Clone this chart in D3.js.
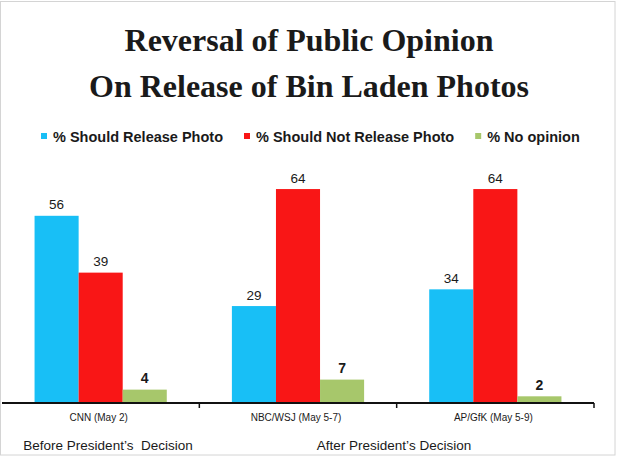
<!DOCTYPE html>
<html>
<head>
<meta charset="utf-8">
<script src="https://cdn.jsdelivr.net/npm/d3@7"></script>
<style>
  body { margin: 0; background: #fff; }
  svg text { font-family: "Liberation Sans", Arial, sans-serif; fill: #1a1a1a; }
</style>
</head>
<body>
<div id="chart"></div>
<script>
// chart data
const titleLines = ["Reversal of Public Opinion", "On Release of Bin Laden Photos"];
const categories = ["CNN (May 2)", "NBC/WSJ (May 5-7)", "AP/GfK (May 5-9)"];
const seriesNames = ["% Should Release Photo", "% Should Not Release Photo", "% No opinion"];
const releaseVals = [56, 29, 34];
const notReleaseVals = [39, 64, 64];
const noOpinionVals = [4, 7, 2];
const periodLabels = ["Before President\u2019s  Decision", "After President\u2019s Decision"];

const colors = ["#18bff6", "#f91616", "#a7c76b"];
const series = [releaseVals, notReleaseVals, noOpinionVals];

const width = 619, height = 456;
const baseY = 403;

let svg = d3.select("#chart").append("svg")
    .attr("width", width)
    .attr("height", height);

// frame
svg.append("rect")
    .attr("x", 0.5).attr("y", 1.5)
    .attr("width", 614.5).attr("height", 453.5)
    .attr("fill", "none")
    .attr("stroke", "#d4d4d4")
    .attr("stroke-width", 1);

// title
svg.selectAll(".title")
    .data(titleLines)
  .enter().append("text")
    .attr("class", "title")
    .attr("x", 309)
    .attr("y", function(d,i){ return 51 + i*46; })
    .style("text-anchor", "middle")
    .style("font-family", "'Liberation Serif', 'Times New Roman', serif")
    .style("font-weight", "bold")
    .style("font-size", "32px")
    .text(function(d){ return d; });

// scales
let x0 = d3.scaleBand()
    .domain(categories)
    .range([2, 594])
    .paddingInner(0.33)
    .paddingOuter(0.165);

let x1 = d3.scaleBand()
    .domain(d3.range(seriesNames.length))
    .range([0, x0.bandwidth()]);

let y = d3.scaleLinear()
    .domain([0, 70])
    .range([baseY, 169]);

// bars
let groups = svg.selectAll(".group")
    .data(categories)
  .enter().append("g")
    .attr("class", "group")
    .attr("transform", function(d){ return "translate(" + x0(d) + ",0)"; });

groups.selectAll("rect")
    .data(function(d,ci){ return series.map(function(s,si){ return {si: si, v: s[ci]}; }); })
  .enter().append("rect")
    .attr("x", function(d){ return x1(d.si); })
    .attr("y", function(d){ return y(d.v); })
    .attr("width", x1.bandwidth())
    .attr("height", function(d){ return baseY - y(d.v); })
    .attr("fill", function(d){ return colors[d.si]; });

groups.selectAll(".vlabel")
    .data(function(d,ci){ return series.map(function(s,si){ return {si: si, v: s[ci]}; }); })
  .enter().append("text")
    .attr("class", "vlabel")
    .attr("x", function(d){ return x1(d.si) + x1.bandwidth()/2; })
    .attr("y", function(d){ return y(d.v) - 6.5; })
    .style("text-anchor", "middle")
    .style("font-size", function(d){ return d.si == 2 ? "14px" : "13.5px"; })
    .style("font-weight", function(d){ return d.si == 2 ? "bold" : "normal"; })
    .text(function(d){ return d.v; });

// axis line with ticks at group boundaries
let step = x0.step();
let left = x0.range()[0], right = x0.range()[1];
svg.append("line")
    .attr("x1", left).attr("x2", right)
    .attr("y1", baseY).attr("y2", baseY)
    .attr("stroke", "#111")
    .attr("stroke-width", 2);

svg.selectAll(".tick")
    .data(d3.range(1, categories.length + 1))
  .enter().append("line")
    .attr("class", "tick")
    .attr("x1", function(d){ return left + d*step; })
    .attr("x2", function(d){ return left + d*step; })
    .attr("y1", baseY).attr("y2", baseY + 5)
    .attr("stroke", "#111")
    .attr("stroke-width", 1.5);

// category labels
svg.selectAll(".catlabel")
    .data(categories)
  .enter().append("text")
    .attr("class", "catlabel")
    .attr("x", function(d){ return x0(d) + x0.bandwidth()/2 - 2; })
    .attr("y", 421)
    .style("text-anchor", "middle")
    .style("font-size", "10px")
    .text(function(d){ return d; });

// period labels
svg.append("text")
    .attr("x", 108)
    .attr("y", 450)
    .style("text-anchor", "middle")
    .style("font-size", "13.5px")
    .style("white-space", "pre")
    .text(periodLabels[0]);

svg.append("text")
    .attr("x", 394)
    .attr("y", 450)
    .style("text-anchor", "middle")
    .style("font-size", "13.5px")
    .text(periodLabels[1]);

// legend
let legend = svg.append("g").attr("class", "legend");
let lx = 41;
seriesNames.forEach(function(name, i){
  legend.append("rect")
      .attr("x", lx).attr("y", 133)
      .attr("width", 6).attr("height", 6)
      .attr("fill", colors[i]);
  let t = legend.append("text")
      .attr("x", lx + 12)
      .attr("y", 141.5)
      .style("font-size", "14.5px")
      .style("font-weight", "bold")
      .text(name);
  lx = lx + 12 + t.node().getComputedTextLength() + 21;
});
</script>
</body>
</html>
